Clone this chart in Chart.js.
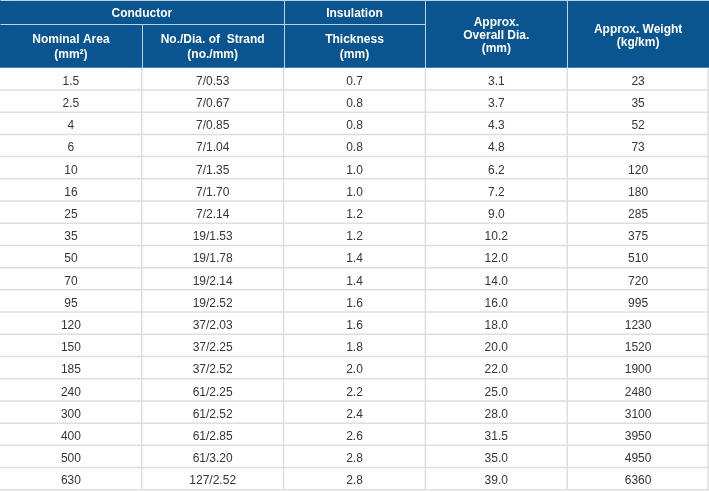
<!DOCTYPE html>
<html>
<head>
<meta charset="utf-8">
<script src="https://cdn.jsdelivr.net/npm/chart.js@4"></script>
<style>
  html, body { margin: 0; padding: 0; background: #ffffff; }
  #wrap { position: relative; width: 709px; height: 492px; }
</style>
</head>
<body>
<div id="wrap"><canvas id="c"></canvas></div>
<script>
// ---- Table data ----
const nominalArea = ['1.5','2.5','4','6','10','16','25','35','50','70','95','120','150','185','240','300','400','500','630'];
const strand = ['7/0.53','7/0.67','7/0.85','7/1.04','7/1.35','7/1.70','7/2.14','19/1.53','19/1.78','19/2.14','19/2.52','37/2.03','37/2.25','37/2.52','61/2.25','61/2.52','61/2.85','61/3.20','127/2.52'];
const thickness = ['0.7','0.8','0.8','0.8','1.0','1.0','1.2','1.2','1.4','1.4','1.6','1.6','1.8','2.0','2.2','2.4','2.6','2.8','2.8'];
const overallDia = ['3.1','3.7','4.3','4.8','6.2','7.2','9.0','10.2','12.0','14.0','16.0','18.0','20.0','22.0','25.0','28.0','31.5','35.0','39.0'];
const weight = ['23','35','52','73','120','180','285','375','510','720','995','1230','1520','1900','2480','3100','3950','4950','6360'];

const headerTop = [{text: 'Conductor', from: 0, to: 2}, {text: 'Insulation', from: 2, to: 3}];
const headerSub = [['Nominal Area', '(mm²)'], ['No./Dia. of  Strand', '(no./mm)'], ['Thickness', '(mm)']];
const headerTall = [['Approx.', 'Overall Dia.', '(mm)'], ['Approx. Weight', '(kg/km)']];

const columnsData = [nominalArea, strand, thickness, overallDia, weight];
const nRows = nominalArea.length;
const nCols = columnsData.length;

// layout in row units (y) and column units (x)
const HEAD = 3.05, HEAD1 = 1.08, BOTTOM = 0.1;

const BLUE = '#0a5490';
const GRID = '#dedede';
const HEADLINE = '#bfd0e2';

const tablePlugin = {
  id: 'tablePlugin',
  beforeDatasetsDraw(chart) {
    const ctx = chart.ctx;
    const xs = chart.scales.x, ys = chart.scales.y;
    const X = v => xs.getPixelForValue(v);
    const Y = v => ys.getPixelForValue(v);
    ctx.save();
    // header background
    ctx.fillStyle = BLUE;
    ctx.fillRect(X(0), Y(-HEAD), X(nCols) - X(0), Y(0) - Y(-HEAD));

    // header lines
    ctx.strokeStyle = HEADLINE;
    ctx.lineWidth = 1;
    const line = (x1, y1, x2, y2) => {
      ctx.beginPath();
      ctx.moveTo(Math.round(x1) + 0.5, Math.round(y1) + 0.5);
      ctx.lineTo(Math.round(x2) + 0.5, Math.round(y2) + 0.5);
      ctx.stroke();
    };
    line(X(0), Y(-HEAD), X(nCols), Y(-HEAD));
    line(X(0), Y(-HEAD + HEAD1), X(3), Y(-HEAD + HEAD1));
    line(X(1), Y(-HEAD + HEAD1), X(1), Y(0));
    [2, 3, 4].forEach(c => line(X(c), Y(-HEAD), X(c), Y(0)));

    // header text
    ctx.fillStyle = '#ffffff';
    ctx.font = 'bold 12px "Liberation Sans", Arial, sans-serif';
    ctx.textAlign = 'center';
    ctx.textBaseline = 'middle';
    headerTop.forEach(h => {
      ctx.fillText(h.text, (X(h.from) + X(h.to)) / 2, (Y(-HEAD) + Y(-HEAD + HEAD1)) / 2 + 2);
    });
    const subMid = (Y(-HEAD + HEAD1) + Y(0)) / 2;
    headerSub.forEach((lines, i) => {
      const cx = (X(i) + X(i + 1)) / 2;
      ctx.fillText(lines[0], cx, subMid - 6.5);
      ctx.fillText(lines[1], cx, subMid + 8.5);
    });
    const headMid = (Y(-HEAD) + Y(0)) / 2;
    headerTall.forEach((lines, i) => {
      const c = 3 + i;
      const cx = (X(c) + X(c + 1)) / 2;
      const lh = 12.8;
      const start = headMid + 2 - (lines.length - 1) * lh / 2;
      lines.forEach((t, k) => ctx.fillText(t, cx, start + k * lh));
    });

    // body grid
    ctx.strokeStyle = GRID;
    ctx.lineWidth = 1.5;
    for (let r = 1; r <= nRows; r++) {
      ctx.beginPath();
      ctx.moveTo(X(0), Y(r));
      ctx.lineTo(X(nCols), Y(r));
      ctx.stroke();
    }
    for (let c = 1; c <= nCols; c++) {
      const xx = c === nCols ? X(c) - 1 : X(c);
      ctx.beginPath();
      ctx.moveTo(xx, Y(0));
      ctx.lineTo(xx, Y(nRows));
      ctx.stroke();
    }

    // body text
    ctx.fillStyle = '#363636';
    ctx.font = '12px "Liberation Sans", Arial, sans-serif';
    columnsData.forEach((col, c) => {
      const cx = (X(c) + X(c + 1)) / 2;
      col.forEach((t, r) => {
        ctx.fillText(t, cx, (Y(r) + Y(r + 1)) / 2 + 2.5);
      });
    });
    ctx.restore();
  }
};

// one invisible point per cell, positioned through the scales
const cellPoints = [];
columnsData.forEach((col, c) => col.forEach((t, r) => cellPoints.push({x: c + 0.5, y: r + 0.5})));

new Chart(document.getElementById('c'), {
  type: 'scatter',
  data: { datasets: [{ data: cellPoints, pointRadius: 0, pointHoverRadius: 0 }] },
  options: {
    responsive: true,
    maintainAspectRatio: false,
    animation: false,
    layout: { padding: 0 },
    plugins: { legend: { display: false }, tooltip: { enabled: false } },
    events: [],
    scales: {
      x: { type: 'linear', min: 0, max: nCols, display: false },
      y: { type: 'linear', min: -HEAD, max: nRows + BOTTOM, reverse: true, display: false }
    }
  },
  plugins: [tablePlugin]
});
</script>
</body>
</html>
